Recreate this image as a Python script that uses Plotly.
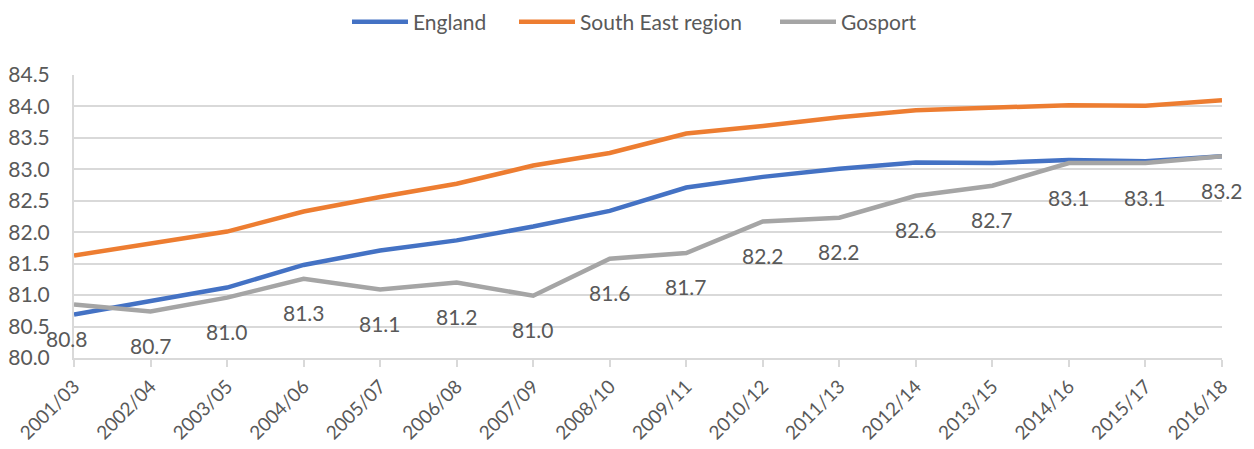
import plotly.graph_objects as go

# categorias (periodos) e valores
periods = ["2001/03", "2002/04", "2003/05", "2004/06", "2005/07", "2006/08", "2007/09", "2008/10",
           "2009/11", "2010/12", "2011/13", "2012/14", "2013/15", "2014/16", "2015/17", "2016/18"]
england = [80.69, 80.90, 81.12, 81.48, 81.71, 81.87, 82.09, 82.34,
           82.71, 82.88, 83.01, 83.11, 83.10, 83.15, 83.13, 83.21]
south_east = [81.63, 81.82, 82.01, 82.33, 82.56, 82.77, 83.06, 83.26,
              83.57, 83.69, 83.83, 83.94, 83.98, 84.02, 84.01, 84.10]
gosport = [80.85, 80.74, 80.96, 81.26, 81.09, 81.20, 80.99, 81.58,
           81.67, 82.17, 82.23, 82.58, 82.74, 83.10, 83.10, 83.21]
y_ticks = [80.0, 80.5, 81.0, 81.5, 82.0, 82.5, 83.0, 83.5, 84.0, 84.5]

font = "Lato"
txt = "#595959"
W, H = 1246, 441  # a pagina tem margem de 8px no body

fig = go.Figure()
fig.add_trace(go.Scatter(x=periods, y=england, name="England", mode="lines", legend="legend",
                         line=dict(color="#4472C4", width=4.5), cliponaxis=False))
fig.add_trace(go.Scatter(x=periods, y=south_east, name="South East region", mode="lines", legend="legend2",
                         line=dict(color="#ED7D31", width=4.5), cliponaxis=False))
fig.add_trace(go.Scatter(x=periods, y=gosport, name="Gosport", mode="lines", legend="legend3",
                         line=dict(color="#A5A5A5", width=4.5), cliponaxis=False))

# rotulos de dados abaixo da linha de Gosport (o primeiro um pouco para a esquerda, como no original)
for i, (p, v) in enumerate(zip(periods, gosport)):
    fig.add_annotation(x=p, y=v, text=f"{v:.1f}", showarrow=False, yshift=-34,
                       xshift=-7 if i == 0 else 0,
                       font=dict(family=font, size=21, color=txt))

leg = dict(orientation="h", xref="container", yref="container", xanchor="left", yanchor="middle",
           y=1 - 14 / H, font=dict(size=21, color=txt), itemwidth=56, bgcolor="rgba(0,0,0,0)")
fig.update_layout(
    width=W, height=H,
    margin=dict(l=66, r=32, t=67, b=91),
    plot_bgcolor="white", paper_bgcolor="white",
    font=dict(family=font, size=20, color=txt),
    showlegend=True,
    legend=dict(leg, x=339 / W),
    legend2=dict(leg, x=506 / W),
    legend3=dict(leg, x=767 / W),
)
fig.update_xaxes(type="category", range=[0, 15], showgrid=False, showline=True,
                 linecolor="#D9D9D9", linewidth=2, ticks="outside", ticklen=7,
                 tickcolor="#D9D9D9", tickwidth=2, tickangle=-45, automargin=False,
                 ticklabelstandoff=1,
                 tickfont=dict(family=font, size=19, color=txt))
fig.update_yaxes(range=[80, 84.5], tickvals=y_ticks, ticktext=[f"{t:.1f}" for t in y_ticks],
                 showgrid=True, gridcolor="#D9D9D9", gridwidth=2, showline=True,
                 linecolor="#D9D9D9", linewidth=2, zeroline=False, automargin=False,
                 ticklabelstandoff=18,
                 tickfont=dict(family=font, size=21, color=txt))

fig.write_html("out.html")
